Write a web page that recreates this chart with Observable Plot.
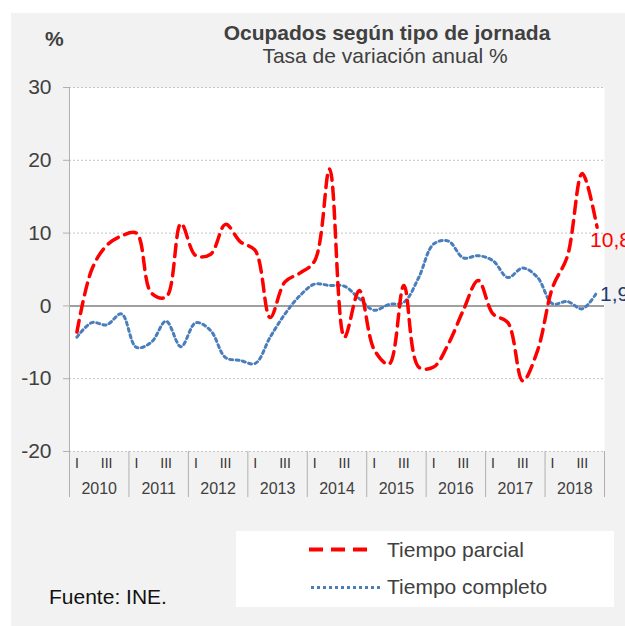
<!DOCTYPE html>
<html><head><meta charset="utf-8">
<script src="https://cdn.jsdelivr.net/npm/d3@7"></script>
<script src="https://cdn.jsdelivr.net/npm/@observablehq/plot@0.6"></script>
<style>
body{margin:0;background:#fff;font-family:"Liberation Sans",Arial,sans-serif;}
#wrap{position:relative;width:625px;height:626px;overflow:hidden;}
#panel{position:absolute;left:11px;top:13px;width:620px;height:620px;background:#f2f2f2;}
#chart{position:absolute;left:0;top:0;}
.t{position:absolute;color:#404040;white-space:nowrap;line-height:21px;font-size:21px;}
#legend{position:absolute;left:236px;top:531px;width:378px;height:76px;background:#fff;}
</style>
</head><body>
<div id="wrap">
  <div id="panel"></div>
  <div id="chart"></div>
  <div class="t" style="left:387px;top:21.5px;transform:translateX(-50%);font-weight:bold;">Ocupados según tipo de jornada</div>
  <div class="t" style="left:385px;top:45px;transform:translateX(-50%);">Tasa de variación anual %</div>
  <div class="t" style="left:45px;top:28px;font-weight:bold;">%</div>
  <div class="t" style="left:49px;top:585.5px;color:#111;">Fuente: INE.</div>
  <div id="legend">
    <svg width="378" height="76" style="position:absolute;left:0;top:0">
      <line x1="73" x2="133" y1="18.5" y2="18.5" stroke="#ff0000" stroke-width="4" stroke-dasharray="14,8"></line>
      <line x1="75" x2="144" y1="56.5" y2="56.5" stroke="#4a7ebb" stroke-width="3" stroke-dasharray="3,3"></line>
    </svg>
    <div class="t" style="left:151px;top:8px;">Tiempo parcial</div>
    <div class="t" style="left:151px;top:44.5px;">Tiempo completo</div>
  </div>
</div>
<script>
const years = [2010, 2011, 2012, 2013, 2014, 2015, 2016, 2017, 2018];
const quarterLabels = ["I", "II", "III", "IV"];
const parcial = [-3.6, 5.0, 8.3, 9.6, 10.0, 1.8, 1.2, 11.3, 6.9, 7.1, 11.2, 8.8,
  7.6, -1.6, 3.3, 4.5, 6.2, 18.8, -4.3, 2.1, -6.0, -8.0, 2.8, -8.4,
  -8.4, -5.2, -0.6, 3.5, -1.1, -2.3, -10.3, -6.1, 2.5, 6.8, 18.2, 10.8];
const completo = [-4.3, -2.3, -2.6, -1.1, -5.7, -5.0, -2.1, -5.6, -2.3, -3.4, -7.1, -7.5,
  -7.9, -4.3, -1.1, 1.4, 3.0, 2.8, 2.7, 1.0, -0.6, 0.2, 0.5, 3.9,
  8.5, 8.9, 6.6, 6.9, 6.2, 3.9, 5.2, 3.9, 0.3, 0.6, -0.4, 1.9];
const yTicks = [-20, -10, 0, 10, 20, 30];

const n = parcial.length;
const rowsP = parcial.map((v, i) => ({i, v}));
const rowsC = completo.map((v, i) => ({i, v}));
const boundaries = d3.range(0, years.length + 1).map(k => k * 4 - 0.5);
const qTicks = d3.range(n).filter(i => i % 4 === 0 || i % 4 === 2);
const yearCenters = years.map((y, k) => k * 4 + 1.5);
const fmt = v => String(v).replace(".", ",");

const chart = Plot.plot({
  width: 625,
  height: 626,
  marginLeft: 69,
  marginRight: 21,
  marginTop: 87,
  marginBottom: 175,
  style: {background: "transparent", fontFamily: "'Liberation Sans', Arial, sans-serif", color: "#404040", overflow: "visible"},
  x: {domain: [-0.5, n - 0.5], axis: null},
  y: {domain: [-20, 30], axis: null},
  marks: [
    Plot.frame({fill: "white", stroke: "none"}),
    Plot.ruleY(yTicks.filter(d => d !== 0), {stroke: "#c4c4c4", strokeDasharray: "2,2"}),
    Plot.ruleY([0], {stroke: "#808080", strokeWidth: 1.5}),
    Plot.ruleX([-0.5], {stroke: "#b0b0b0"}),
    Plot.axisY({ticks: yTicks, tickSize: 6, tickPadding: 12, tickFormat: d => String(d), fontSize: 21, stroke: "#b0b0b0", fill: "#404040", label: null}),
    Plot.axisX({ticks: boundaries, tickSize: 46, tickFormat: () => "", stroke: "#b0b0b0", label: null}),
    Plot.axisX({ticks: qTicks, tickSize: 0, tickPadding: 7, tickFormat: i => quarterLabels[i % 4], fontSize: 14, fill: "#333", label: null}),
    Plot.axisX({ticks: yearCenters, tickSize: 0, tickPadding: 31, tickFormat: v => String(years[Math.floor(v / 4)]), fontSize: 16, fill: "#404040", label: null}),
    Plot.line(rowsC, {x: "i", y: "v", stroke: "#4a7ebb", strokeWidth: 3, strokeDasharray: "3,3.5", curve: "catmull-rom"}),
    Plot.line(rowsP, {x: "i", y: "v", stroke: "#ff0000", strokeWidth: 3.5, strokeDasharray: "12,7", curve: "catmull-rom"}),
    Plot.text([rowsP[n - 1]], {x: "i", y: "v", text: d => fmt(d.v), dx: -7, dy: 13, textAnchor: "start", fontSize: 21, fill: "#ff0000"}),
    Plot.text([rowsC[n - 1]], {x: "i", y: "v", text: d => fmt(d.v), dx: 3, dy: 2, textAnchor: "start", fontSize: 21, fill: "#1f3d6e"})
  ]
});
document.getElementById("chart").appendChild(chart);
</script>
</body></html>
